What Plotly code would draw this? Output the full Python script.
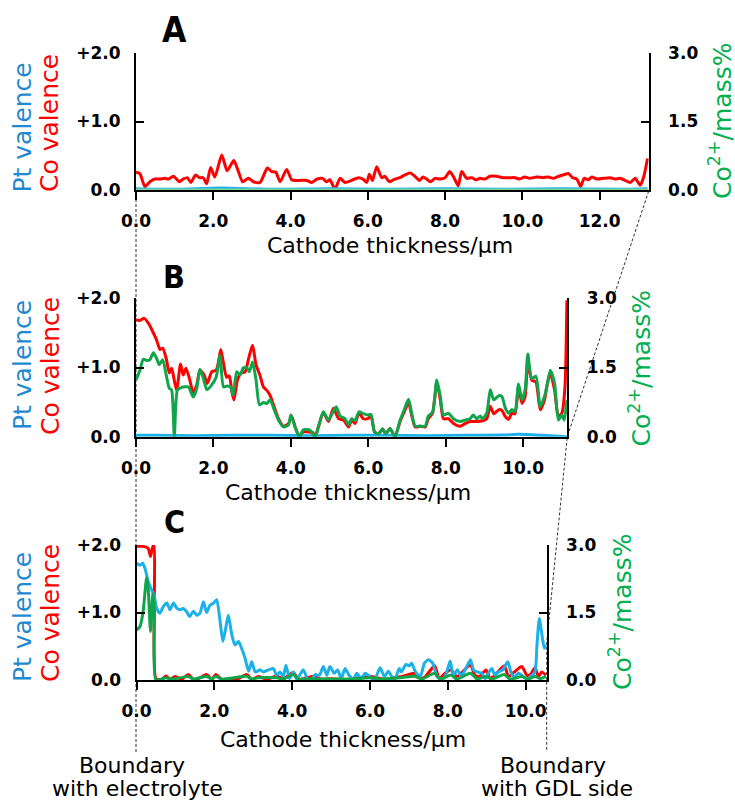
import plotly.graph_objects as go

# ---------------- DATA ----------------
# Panel A
A_co_x = [0.0,0.10,0.23,0.36,0.49,0.62,0.75,0.84,0.97,1.12,
          1.22,1.33,1.42,1.54,1.64,1.74,1.83,1.93,2.04,2.22,
          2.36,2.53,2.65,2.76,2.91,3.04,3.21,3.40,3.51,3.62,
          3.73,3.90,4.03,4.20,4.42,4.55,4.68,4.83,4.93,5.02,
          5.15,5.28,5.41,5.58,5.76,5.87,5.97,6.04,6.12,6.23,
          6.36,6.44,6.56,6.70,6.83,6.96,7.09,7.22,7.33,7.43,
          7.52,7.62,7.74,7.87,8.00,8.12,8.23,8.34,8.43,8.56,
          8.69,8.80,8.90,9.03,9.16,9.33,9.50,9.68,9.81,9.93,
          10.06,10.19,10.37,10.54,10.67,10.80,10.93,11.06,11.19,11.30,
          11.41,11.51,11.60,11.71,11.80,11.93,12.10,12.27,12.40,12.53,
          12.66,12.79,12.92,13.05,13.14,13.24]
A_co_val = [0.26,0.24,0.05,0.12,0.16,0.16,0.17,0.16,0.20,0.12,
            0.16,0.18,0.11,0.22,0.18,0.18,0.09,0.33,0.19,0.51,
            0.28,0.43,0.27,0.12,0.17,0.12,0.11,0.32,0.27,0.26,
            0.12,0.30,0.15,0.14,0.14,0.11,0.16,0.17,0.12,0.15,
            0.01,0.17,0.11,0.14,0.18,0.16,0.11,0.23,0.14,0.34,
            0.18,0.20,0.12,0.16,0.18,0.22,0.25,0.20,0.14,0.19,
            0.16,0.12,0.17,0.16,0.18,0.27,0.18,0.06,0.27,0.17,
            0.18,0.15,0.17,0.16,0.20,0.20,0.18,0.18,0.18,0.16,
            0.19,0.17,0.19,0.18,0.19,0.17,0.20,0.22,0.24,0.18,
            0.16,0.05,0.17,0.15,0.19,0.16,0.17,0.18,0.16,0.17,
            0.14,0.11,0.17,0.07,0.19,0.46]
A_pt_x = [0.0,1.0,2.2,3.5,5.0,6.5,8.0,9.5,11.0,12.5,13.24]
A_pt_val = [0.02,0.01,0.03,0.01,0.02,0.01,0.02,0.01,0.02,0.01,0.02]
A_mass_x = [0.0,13.24]
A_mass_val = [0.0,0.0]

# Panel B
B_co_x = [0.0,0.10,0.21,0.32,0.43,0.53,0.62,0.69,0.78,0.86,
          0.92,0.98,1.05,1.15,1.22,1.29,1.38,1.48,1.57,1.65,
          1.76,1.84,1.96,2.07,2.13,2.19,2.26,2.34,2.41,2.47,
          2.53,2.62,2.71,2.82,2.90,3.01,3.10,3.20,3.29,3.38,
          3.46,3.57,3.68,3.81,3.94,4.02,4.11,4.22,4.32,4.45,
          4.57,4.63,4.71,4.84,4.97,5.10,5.23,5.36,
          5.49,5.57,5.66,5.76,5.87,5.99,6.07,6.16,6.26,6.37,
          6.45,6.56,6.69,6.82,6.93,7.04,7.12,7.21,7.34,7.47,
          7.55,7.66,7.77,7.86,7.94,8.07,8.20,8.37,8.50,8.63,
          8.80,8.95,9.06,9.15,9.24,9.37,9.45,9.54,9.62,9.71,
          9.79,9.88,9.97,10.05,10.12,10.22,10.33,10.44,10.55,10.61,
          10.70,10.81,10.91,11.00,11.08,11.13]
B_co_val = [1.69,1.68,1.71,1.64,1.52,1.40,1.26,1.28,1.13,0.92,
            0.99,0.84,0.67,1.05,0.89,0.99,0.84,0.63,0.75,0.96,
            0.89,0.77,0.94,0.96,1.08,1.26,1.06,0.86,0.88,0.67,
            0.53,0.82,0.92,0.94,1.11,1.32,1.04,0.89,0.72,0.67,
            0.60,0.43,0.26,0.15,0.19,0.30,0.14,0.0,0.07,0.07,
            0.06,0.0,0.14,0.35,0.22,0.41,0.26,0.24,
            0.14,0.24,0.19,0.35,0.26,0.26,0.30,0.07,0.04,0.11,
            0.04,0.12,0.0,0.22,0.36,0.49,0.31,0.14,0.15,0.14,
            0.26,0.34,0.79,0.53,0.26,0.26,0.19,0.15,0.19,0.22,
            0.22,0.23,0.26,0.44,0.33,0.39,0.38,0.29,0.25,0.34,
            0.33,0.72,0.48,0.58,1.08,0.82,0.79,0.39,0.53,0.72,
            0.92,0.68,0.29,0.34,0.72,1.97]
B_mass_x = [0.0,0.10,0.19,0.28,0.36,0.45,0.53,0.60,0.69,0.78,
            0.86,0.92,0.99,1.07,1.18,1.35,1.48,1.57,1.65,1.74,
            1.83,1.96,2.07,2.17,2.26,2.36,2.44,2.51,2.60,2.69,
            2.77,2.86,2.93,3.01,3.10,3.19,3.29,3.38,3.46,3.59,
            3.70,3.82,3.94,4.00,4.11,4.22,4.32,4.50,4.63,4.71,
            4.84,4.97,5.17,5.27,5.40,
            5.49,5.57,5.66,5.76,5.87,5.99,6.07,6.16,6.26,6.37,
            6.45,6.56,6.69,6.82,6.93,7.04,7.12,7.21,7.34,7.47,
            7.55,7.66,7.77,7.86,7.94,8.07,8.20,8.37,8.50,8.63,
            8.71,8.80,8.89,8.95,9.06,9.15,9.24,9.37,9.45,9.54,
            9.62,9.71,9.79,9.88,9.97,10.05,10.12,10.22,10.33,10.44,
            10.55,10.61,10.70,10.81,10.91,11.00,11.06,11.13]
B_mass_val = [1.23,1.44,1.68,1.65,1.67,1.82,1.70,1.56,1.67,1.34,
              1.05,1.01,0.0,1.01,1.07,1.08,0.86,1.05,1.46,1.26,
              1.02,1.13,1.29,1.76,1.08,1.10,1.08,0.90,1.41,1.34,
              1.49,1.50,1.41,1.62,1.23,0.69,0.74,0.72,0.80,0.54,
              0.33,0.21,0.26,0.47,0.21,0.0,0.15,0.14,0.0,0.21,
              0.54,0.36,0.65,0.45,0.39,
              0.26,0.39,0.35,0.54,0.50,0.47,0.48,0.11,0.06,0.17,
              0.06,0.18,0.0,0.35,0.59,0.81,0.51,0.23,0.23,0.23,
              0.45,0.53,1.23,0.87,0.47,0.51,0.39,0.33,0.36,0.39,
              0.47,0.39,0.45,0.39,0.51,1.02,0.80,0.89,0.87,0.62,
              0.51,0.59,0.54,1.14,0.80,1.01,1.79,1.26,1.31,0.65,
              0.87,1.08,1.44,1.16,0.36,0.47,0.36,0.80]
B_pt_x = [0.0,0.5,1.5,2.5,3.5,4.5,5.5,6.5,7.5,8.5,9.5,9.9,10.5,11.13]
B_pt_val = [0.02,0.02,0.015,0.02,0.02,0.015,0.02,0.02,0.015,0.02,0.025,0.035,0.02,0.0]

# Panel C
C_pt_x = [0.0,0.09,0.16,0.22,0.30,0.39,0.45,0.52,0.60,0.69,
          0.78,0.86,0.95,1.04,1.12,1.20,1.29,1.37,1.46,1.55,
          1.63,1.72,1.80,1.89,1.98,2.06,2.15,2.22,2.30,2.36,
          2.45,2.53,2.62,2.70,2.79,2.88,2.96,3.05,3.18,3.26,
          3.39,3.52,3.60,3.69,3.77,3.84,3.93,4.03,4.12,4.20,
          4.29,4.39,4.50,4.59,4.70,4.80,4.89,4.97,5.08,
          5.17,5.26,5.36,5.46,5.57,5.66,5.77,5.87,5.96,6.05,
          6.13,6.26,6.37,6.47,6.56,6.64,6.75,6.81,6.92,7.01,
          7.07,7.16,7.29,7.40,7.50,7.61,7.72,7.83,7.93,8.06,
          8.14,8.25,8.34,8.46,8.58,8.66,8.75,8.87,8.96,9.04,
          9.13,9.21,9.30,9.41,9.54,9.63,9.71,9.82,9.90,10.03,
          10.16,10.24,10.29,10.35,10.43,10.48,10.52]
C_pt_val = [1.73,1.70,1.73,1.65,1.46,1.33,1.26,1.06,0.99,1.09,
            1.14,1.04,1.14,1.06,1.04,1.06,1.01,0.94,1.02,0.96,
            0.99,1.16,1.00,1.11,1.14,1.19,0.86,0.57,0.79,0.96,
            0.67,0.52,0.57,0.47,0.32,0.13,0.27,0.12,0.15,0.12,
            0.15,0.17,0.07,0.12,0.05,0.22,0.02,0.12,0.01,0.08,
            0.15,0.02,0.0,0.08,0.07,0.20,0.07,0.20,0.10,
            0.15,0.02,0.17,0.07,0.01,0.10,0.02,0.10,0.07,0.02,
            0.02,0.18,0.05,0.13,0.05,0.01,0.17,0.12,0.23,0.21,
            0.25,0.13,0.05,0.25,0.30,0.25,0.05,0.01,0.05,0.28,
            0.07,0.15,0.05,0.17,0.30,0.15,0.12,0.10,0.02,0.10,
            0.17,0.07,0.12,0.15,0.27,0.10,0.05,0.10,0.07,0.01,
            0.07,0.12,0.52,0.91,0.62,0.47,0.52]
C_co_x = [0.0,0.17,0.30,0.36,0.42,0.45,0.50,0.65,0.76,0.86,
          0.99,1.16,1.33,1.46,1.59,1.80,1.93,2.04,2.19,2.58,
          2.83,2.96,3.13,3.35,3.60,3.77,4.03,4.16,4.29,4.55,
          4.76,4.97,5.23,5.45,6.00,6.39,6.80,7.16,7.29,7.42,
          7.66,7.78,7.93,8.08,8.23,8.34,8.58,8.70,8.81,8.98,
          9.09,9.21,9.45,9.56,9.71,9.90,10.03,10.12,10.24,10.33,
          10.41,10.52]
C_co_val = [1.98,1.98,1.95,1.83,1.98,1.98,0.02,0.01,0.06,0.01,
            0.05,0.01,0.08,0.01,0.02,0.08,0.01,0.08,0.01,0.01,
            0.08,0.01,0.05,0.01,0.06,0.02,0.11,0.01,0.02,0.05,
            0.01,0.02,0.01,0.01,0.05,0.01,0.05,0.10,0.02,0.05,
            0.21,0.02,0.10,0.15,0.05,0.10,0.22,0.07,0.05,0.15,
            0.02,0.07,0.21,0.05,0.12,0.20,0.07,0.08,0.18,0.05,
            0.12,0.07]
C_mass_x = [0.0,0.09,0.17,0.26,0.30,0.36,0.42,0.46,0.50,0.76,
            0.86,0.99,1.33,1.46,1.80,1.93,2.04,2.19,2.83,2.96,
            3.13,3.60,3.77,4.03,4.16,4.55,4.97,5.23,5.53,6.00,
            6.30,6.77,7.16,7.33,7.66,7.80,8.08,8.23,8.58,8.75,
            8.98,9.13,9.45,9.60,9.90,10.07,10.24,10.37,10.52]
C_mass_val = [1.11,1.19,1.52,2.27,2.04,1.08,1.92,1.52,0.0,0.05,
              0.02,0.03,0.08,0.02,0.08,0.02,0.08,0.02,0.08,0.02,
              0.05,0.05,0.02,0.12,0.02,0.03,0.02,0.02,0.02,0.05,
              0.02,0.05,0.08,0.02,0.15,0.02,0.11,0.02,0.15,0.02,
              0.08,0.02,0.12,0.02,0.08,0.02,0.08,0.03,0.08]

x_tick_vals_A = [0, 2, 4, 6, 8, 10, 12]
x_tick_vals_BC = [0, 2, 4, 6, 8, 10]
val_ticks = [0, 1, 2]
val_tick_text = ["0.0", "+1.0", "+2.0"]
mass_ticks = [0, 1.5, 3]
mass_tick_text = ["0.0", "1.5", "3.0"]

for a, b in [(A_co_x, A_co_val), (B_co_x, B_co_val), (B_mass_x, B_mass_val),
             (C_pt_x, C_pt_val), (C_co_x, C_co_val), (C_mass_x, C_mass_val)]:
    assert len(a) == len(b), (len(a), len(b))

# ---------------- STYLE / LAYOUT ----------------
W, H = 735, 801
RED = "#ff0000"
BLUE_LINE = "#1cb0e8"
GREEN_LINE = "#10a54b"
BLUE_TXT = "#1f8ad2"
GREEN_TXT = "#00b050"
FONT = "DejaVu Sans"

def fx(p):
    return p / W

def fy(p):
    return 1 - p / H

panels = {
    "A": dict(l=136.0, r=648.7, t=53.0, b=190.0, xmax=13.27, xt=x_tick_vals_A),
    "B": dict(l=136.0, r=567.3, t=298.3, b=436.7, xmax=11.14, xt=x_tick_vals_BC),
    "C": dict(l=136.5, r=546.7, t=545.0, b=680.0, xmax=10.54, xt=x_tick_vals_BC),
}

fig = go.Figure()
LW = 3.0

def add(x, y, xa, ya, color):
    fig.add_trace(go.Scatter(x=x, y=y, xaxis=xa, yaxis=ya, mode="lines",
                             line=dict(color=color, width=LW, shape="spline", smoothing=0.6),
                             showlegend=False, hoverinfo="skip"))

add(A_co_x, A_co_val, "x", "y", RED)
add(A_pt_x, A_pt_val, "x", "y", BLUE_LINE)
add(A_mass_x, A_mass_val, "x", "y2", "#7fd39b")
add(B_co_x, B_co_val, "x2", "y3", RED)
add(B_pt_x, B_pt_val, "x2", "y3", BLUE_LINE)
add(B_mass_x, B_mass_val, "x2", "y4", GREEN_LINE)
add(C_co_x, C_co_val, "x3", "y5", RED)
add(C_pt_x, C_pt_val, "x3", "y5", BLUE_LINE)
add(C_mass_x, C_mass_val, "x3", "y6", GREEN_LINE)

tickfont = dict(family=FONT, size=17, color="black", weight="bold")
layout = dict(width=W, height=H, margin=dict(l=0, r=0, t=0, b=0, pad=0, autoexpand=False),
              paper_bgcolor="white", plot_bgcolor="rgba(0,0,0,0)", autosize=False)

names = [("A", "xaxis", "yaxis", "yaxis2", "y", "x", "y2"),
         ("B", "xaxis2", "yaxis3", "yaxis4", "y3", "x2", "y4"),
         ("C", "xaxis3", "yaxis5", "yaxis6", "y5", "x3", "y6")]
annotations = []
for key, xa, yl, yr, yl_id, xa_id, yr_id in names:
    p = panels[key]
    xdom = [fx(p["l"]), fx(p["r"])]
    ydom = [fy(p["b"]), fy(p["t"])]
    layout[xa] = dict(domain=xdom, anchor=yl_id, range=[0, p["xmax"]],
                      tickvals=p["xt"], ticktext=[f"{v:.1f}" for v in p["xt"]],
                      ticks="outside", ticklen=8, tickwidth=2, tickcolor="black",
                      showline=True, linecolor="black", linewidth=2, automargin=False,
                      showgrid=False, zeroline=False, tickfont=tickfont,
                      ticklabelstandoff=7)
    common_y = dict(domain=ydom, anchor=xa_id, ticks="inside", ticklen=8, tickwidth=2,
                    tickcolor="black", showline=True, linecolor="black", linewidth=2,
                    showgrid=False, zeroline=False, tickfont=tickfont, automargin=False)
    layout[yl] = dict(common_y, range=[0, 2.0], tickvals=val_ticks, ticktext=val_tick_text,
                      side="left", ticklabelstandoff=10)
    layout[yr] = dict(common_y, range=[0, 3.0], tickvals=mass_ticks, ticktext=mass_tick_text,
                      side="right", overlaying=yl_id, ticklabelstandoff=14)

# Text annotations
def ann(text, x, y, size, color="black", angle=0, family=FONT, weight="normal", xanchor="center"):
    annotations.append(dict(text=text, x=fx(x), y=fy(y), xref="paper", yref="paper",
                            showarrow=False, textangle=angle, xanchor=xanchor, yanchor="middle",
                            font=dict(family=family, size=size, color=color, weight=weight)))

letter_font = "Liberation Sans Narrow, DejaVu Sans Condensed, Arial Narrow, sans-serif"
ann("A", 174.5, 30, 35, family=letter_font, weight="bold")
ann("B", 174.0, 276.5, 32, family=letter_font, weight="bold")
ann("C", 174.0, 521.5, 32, family=letter_font, weight="bold")

ann("Cathode thickness/μm", 390, 246, 22)
ann("Cathode thickness/μm", 348, 493, 22)
ann("Cathode thickness/μm", 343, 739, 22)

for yc_pt, yc_co, ym, xm in [(127.5, 123, 121.5, 720.5), (365, 366, 368.5, 640), (617, 613, 612, 620)]:
    ann("Pt valence", 22, yc_pt, 25, BLUE_TXT, -90)
    ann("Co valence", 50, yc_co, 25, RED, -90)
    ann("Co<sup>2+</sup>/mass%", xm, ym, 25, GREEN_TXT, -90)

ann("Boundary", 132, 765, 22)
ann("with electrolyte", 137.5, 788, 22)
ann("Boundary", 552.5, 765, 22)
ann("with GDL side", 556.5, 788, 22)

layout["annotations"] = annotations

# dashed connector lines between panels
dash = dict(color="#333333", width=1, dash="3px,2px")
layout["shapes"] = [
    dict(type="line", xref="paper", yref="paper", x0=fx(136), x1=fx(136), y0=fy(194), y1=fy(752),
         line=dash, layer="below"),
    dict(type="path", xref="paper", yref="paper",
         path=f"M {fx(648.7)},{fy(191)} L {fx(567.3)},{fy(436.7)} L {fx(546.7)},{fy(643)} L {fx(546.7)},{fy(752)}",
         line=dash, layer="below"),
]

fig.update_layout(**layout)
fig.write_html("out.html", config={"displayModeBar": False},
               post_script="document.body.style.margin='0px';document.body.style.padding='0px';")
